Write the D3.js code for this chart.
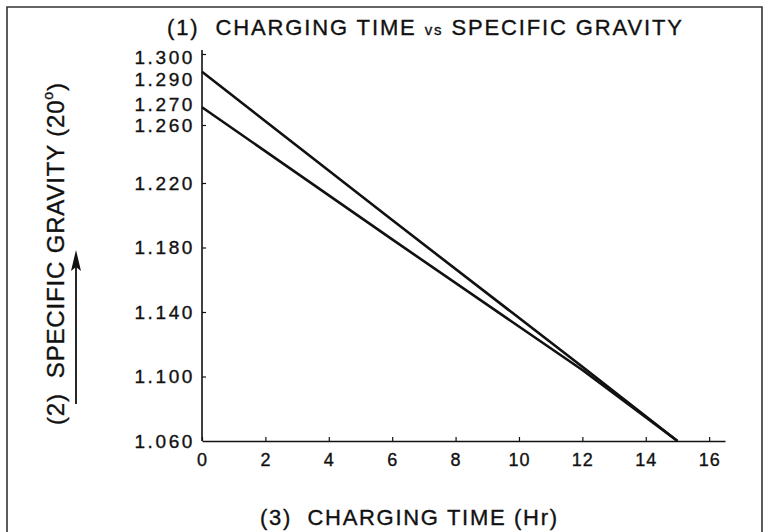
<!DOCTYPE html>
<html>
<head>
<meta charset="utf-8">
<script src="https://cdn.jsdelivr.net/npm/d3@7"></script>
<style>
  body { margin: 0; background: #fff; }
  svg { display: block; }
  text { font-family: "Liberation Sans", Arial, sans-serif; fill: #111; white-space: pre; }
</style>
</head>
<body>
<svg id="CHART" width="775" height="532"></svg>
<script>
// hours
const hours = [0, 6, 12, 15];
const upperGravity = [1.290, 1.197, 1.106, 1.060];
const lowerGravity = [1.270, 1.185, 1.104, 1.060];

const xTicks = [0, 2, 4, 6, 8, 10, 12, 14, 16];
const yTickMarks = [1.300, 1.260, 1.220, 1.180, 1.140, 1.100];
const yTickLabels = [1.300, 1.290, 1.270, 1.260, 1.220, 1.180, 1.140, 1.100, 1.060];

const titleText = ["(1)  CHARGING TIME ", "vs", " SPECIFIC GRAVITY"];
const yTitle = "(2)  SPECIFIC GRAVITY (20";
const xTitle = "(3)  CHARGING TIME (Hr)";

const svg = d3.select("#CHART");
const ink = "#111";

// the printed y axis is not evenly spaced above 1.220
const x = d3.scaleLinear().domain([0, 16.5]).range([202, 725]);
const y = d3.scaleLinear()
  .domain([1.060, 1.220, 1.260, 1.300])
  .range([441, 183, 125, 54]);

// outer frame (bottom edge is cut off in the scan)
svg.append("path")
  .attr("d", "M7,545 V7 H762 V545")
  .attr("fill", "none")
  .attr("stroke", "#333")
  .attr("stroke-width", 1.6);

// helper: stretch a text to a given width with letter spacing
const fitWidth = (sel, w) => {
  const n = sel.text().length;
  const cur = sel.node().getComputedTextLength();
  sel.attr("letter-spacing", Math.max(0, (w - cur) / (n - 1)));
};

// heavier look like the printed scan
const inked = (sel) => sel.attr("stroke", ink).attr("stroke-width", 0.35);

// title
const title = svg.append("text")
  .attr("x", 167)
  .attr("y", 35)
  .style("font-size", "22px")
  .call(inked);
title.append("tspan").text(titleText[0]);
title.append("tspan").text(titleText[1]).style("font-size", "15px");
title.append("tspan").text(titleText[2]);
fitWidth(title, 515);

// x axis
const xAxis = svg.append("g")
  .attr("transform", `translate(0,${y(1.060)})`)
  .call(
    d3.axisBottom(x)
      .tickValues(xTicks)
      .tickSize(-4)
      .tickSizeOuter(0)
      .tickPadding(12)
      .tickFormat(d3.format("d"))
  );
xAxis.select(".domain").attr("stroke", ink).attr("stroke-width", 1.6);
xAxis.selectAll(".tick line").attr("stroke", ink).attr("stroke-width", 1.2);
xAxis.selectAll(".tick text")
  .attr("fill", ink)
  .attr("dy", "0.71em")
  .attr("letter-spacing", 1)
  .style("font-size", "18px")
  .style("font-family", "'Liberation Sans', Arial, sans-serif")
  .call(inked);

// y axis (marks)
const yAxis = svg.append("g")
  .attr("transform", `translate(${x(0)},0)`)
  .call(
    d3.axisLeft(y)
      .tickValues(yTickMarks)
      .tickSize(-4)
      .tickSizeOuter(0)
      .tickFormat("")
  );
yAxis.select(".domain")
  .attr("d", `M0,${y(1.060)}V${y(1.300) - 4}`)
  .attr("stroke", ink)
  .attr("stroke-width", 1.6);
yAxis.selectAll(".tick line").attr("stroke", ink).attr("stroke-width", 1.2);

// y tick labels (crowded ones at the top are pushed apart a little)
const labelNudge = { "1.300": 3, "1.290": 7.5, "1.270": -3, "1.260": 0.5 };
svg.append("g")
  .selectAll("text")
  .data(yTickLabels)
  .join("text")
  .attr("x", 195)
  .attr("y", (d) => y(d) + (labelNudge[d.toFixed(3)] || 0))
  .attr("dy", "0.35em")
  .attr("text-anchor", "end")
  .attr("letter-spacing", 2.6)
  .style("font-size", "19px")
  .call(inked)
  .text((d) => d.toFixed(3));

// y title, rotated
const yt = svg.append("text")
  .attr("transform", "translate(64,425) rotate(-90)")
  .style("font-size", "24px")
  .call(inked);
yt.append("tspan").text(yTitle);
yt.append("tspan").text("o").style("font-size", "14px").attr("dy", -11);
yt.append("tspan").text(")").attr("dy", 11);
fitWidth(yt, 342);

// arrow beside y title
svg.append("line")
  .attr("x1", 76).attr("y1", 404)
  .attr("x2", 76).attr("y2", 255)
  .attr("stroke", ink)
  .attr("stroke-width", 1.8);
svg.append("path")
  .attr("d", "M76,250 L81,271 L76,267 L71,271 Z")
  .attr("fill", ink);

// x title
const xt = svg.append("text")
  .attr("x", 260)
  .attr("y", 525)
  .style("font-size", "22px")
  .call(inked)
  .text(xTitle);
fitWidth(xt, 297);

// the two lines
const line = d3.line()
  .x((d) => x(d[0]))
  .y((d) => y(d[1]));

const series = [
  hours.map((h, i) => [h, upperGravity[i]]),
  hours.map((h, i) => [h, lowerGravity[i]]),
];

svg.append("g")
  .selectAll("path")
  .data(series)
  .join("path")
  .attr("d", line)
  .attr("fill", "none")
  .attr("stroke", ink)
  .attr("stroke-width", 2.6)
  .attr("stroke-linejoin", "round");
</script>
</body>
</html>
